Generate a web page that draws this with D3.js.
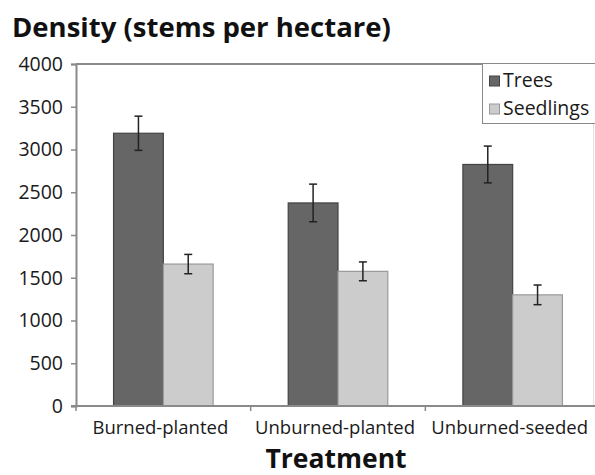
<!DOCTYPE html>
<html>
<head>
<meta charset="utf-8">
<script src="https://cdn.jsdelivr.net/npm/d3@7"></script>
<style>
  html, body { margin: 0; padding: 0; background: #fff; }
  svg { display: block; font-family: "Open Sans", "Noto Sans", sans-serif; }
</style>
</head>
<body>
<svg id="chart" width="595" height="475"></svg>
<script>
// Stem density by treatment
const categories = ["Burned-planted", "Unburned-planted", "Unburned-seeded"];
const seriesNames = ["Trees", "Seedlings"];
const treesMean = [3190, 2375, 2825];
const treesErr = [200, 220, 215];
const seedlingsMean = [1660, 1575, 1300];
const seedlingsErr = [113, 110, 115];
const yTicks = [0, 500, 1000, 1500, 2000, 2500, 3000, 3500, 4000];

const fills = ["#666666", "#cccccc"];
const strokes = ["#444444", "#999999"];

const svg = d3.select("#chart");
const plotLeft = 76, plotRight = 600, plotTop = 64, plotBottom = 406;

const x0 = d3.scaleBand().domain(categories).range([plotLeft, plotRight])
  .paddingInner(0.43).paddingOuter(0.215);
const x1 = d3.scaleBand().domain(seriesNames).range([0, x0.bandwidth()]);
const y = d3.scaleLinear().domain([0, 4000]).range([plotBottom, plotTop]);

const rows = categories.map((c, i) => ({
  cat: c,
  vals: [
    { s: "Trees", v: treesMean[i], e: treesErr[i], k: 0 },
    { s: "Seedlings", v: seedlingsMean[i], e: seedlingsErr[i], k: 1 }
  ]
}));

// plot frame: top and right border
svg.append("line").attr("x1", plotLeft).attr("x2", 595).attr("y1", plotTop).attr("y2", plotTop)
  .attr("stroke", "#8a8a8a").attr("stroke-width", 2);
svg.append("line").attr("x1", 593.5).attr("x2", 593.5).attr("y1", plotTop).attr("y2", plotBottom)
  .attr("stroke", "#e4e4e4").attr("stroke-width", 1);

// bars
const g = svg.append("g").selectAll("g").data(rows).join("g")
  .attr("transform", d => `translate(${x0(d.cat)},0)`);
g.selectAll("rect").data(d => d.vals).join("rect")
  .attr("x", d => x1(d.s))
  .attr("y", d => y(d.v))
  .attr("width", x1.bandwidth())
  .attr("height", d => y(0) - y(d.v))
  .attr("fill", d => fills[d.k])
  .attr("stroke", d => strokes[d.k])
  .attr("stroke-width", 1.2);

// error bars
const eb = g.selectAll("g.err").data(d => d.vals).join("g").attr("class", "err")
  .attr("stroke", "#222").attr("stroke-width", 1.5);
const cx = d => x1(d.s) + x1.bandwidth() / 2;
eb.append("line").attr("x1", cx).attr("x2", cx)
  .attr("y1", d => y(d.v + d.e)).attr("y2", d => y(d.v - d.e));
eb.append("line").attr("x1", d => cx(d) - 4).attr("x2", d => cx(d) + 4)
  .attr("y1", d => y(d.v + d.e)).attr("y2", d => y(d.v + d.e));
eb.append("line").attr("x1", d => cx(d) - 4).attr("x2", d => cx(d) + 4)
  .attr("y1", d => y(d.v - d.e)).attr("y2", d => y(d.v - d.e));

// y axis
const yAxis = svg.append("g").attr("transform", `translate(${plotLeft},0)`)
  .call(d3.axisLeft(y).tickValues(yTicks).tickSize(5).tickPadding(8).tickFormat(d3.format("d")));
yAxis.select(".domain").attr("stroke", "#8a8a8a").attr("stroke-width", 2);
yAxis.selectAll(".tick line").attr("stroke", "#8a8a8a").attr("stroke-width", 1.5);
yAxis.selectAll(".tick text").attr("fill", "#1a1a1a").attr("font-size", 19.5)
  .attr("font-family", "Open Sans");

// x axis with ticks on category boundaries
svg.append("line").attr("x1", plotLeft - 5).attr("x2", 595).attr("y1", plotBottom).attr("y2", plotBottom)
  .attr("stroke", "#8a8a8a").attr("stroke-width", 2);
const step = x0.step();
const bounds = d3.range(categories.length + 1).map(i => plotLeft + i * step);
svg.append("g").selectAll("line").data(bounds).join("line")
  .attr("x1", d => d).attr("x2", d => d).attr("y1", plotBottom).attr("y2", plotBottom + 5)
  .attr("stroke", "#8a8a8a").attr("stroke-width", 1.5);
svg.append("g").selectAll("text").data(categories).join("text")
  .attr("x", d => x0(d) + x0.bandwidth() / 2 - 3)
  .attr("y", 434)
  .attr("text-anchor", "middle")
  .attr("font-size", 18.5)
  .attr("fill", "#1a1a1a")
  .text(d => d);

// titles
svg.append("text").attr("x", 12).attr("y", 37)
  .attr("font-size", 27.5).attr("font-weight", "bold").attr("fill", "#111")
  .text("Density (stems per hectare)");
svg.append("text").attr("x", 336).attr("y", 467.5).attr("text-anchor", "middle")
  .attr("font-size", 26.5).attr("font-weight", "bold").attr("fill", "#111")
  .text("Treatment");

// legend
const lg = svg.append("g");
lg.append("rect").attr("x", 482.5).attr("y", 63.5).attr("width", 130).attr("height", 60)
  .attr("fill", "#fff").attr("stroke", "#8a8a8a").attr("stroke-width", 1);
seriesNames.forEach((s, i) => {
  const yy = 76 + i * 28;
  lg.append("rect").attr("x", 489.5).attr("y", yy).attr("width", 10).attr("height", 10)
    .attr("fill", fills[i]).attr("stroke", strokes[i]).attr("stroke-width", 1);
  lg.append("text").attr("x", 503).attr("y", yy + 11)
    .attr("font-size", 19.5).attr("fill", "#1a1a1a").text(s);
});
</script>
</body>
</html>
